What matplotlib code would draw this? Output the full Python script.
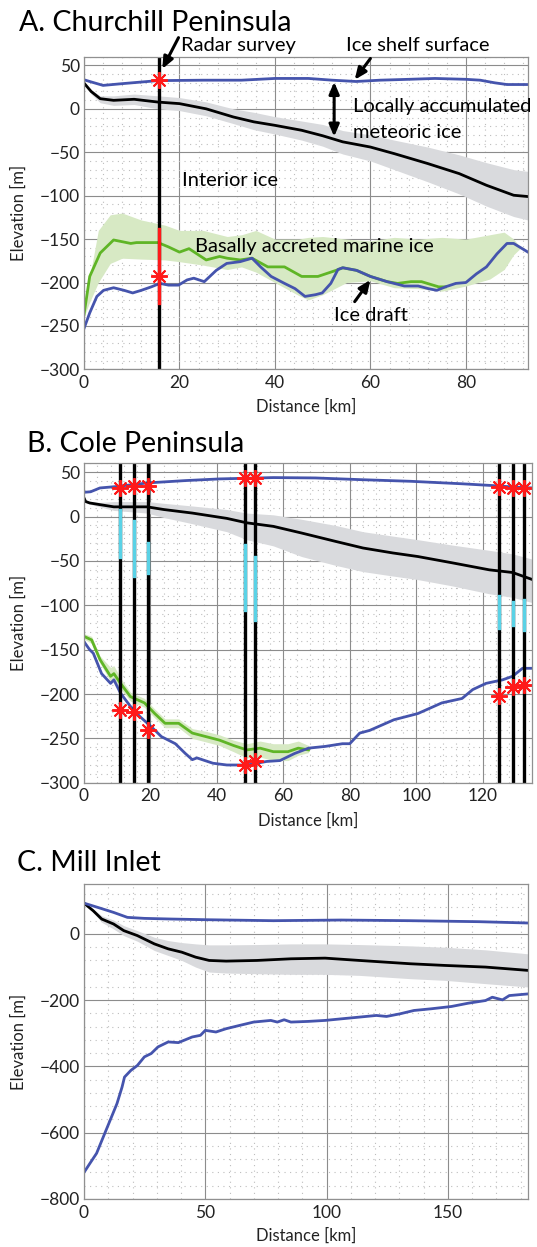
import numpy as np
import matplotlib
matplotlib.use('Agg')
import matplotlib.pyplot as plt
from matplotlib.ticker import MultipleLocator

plt.rcParams['font.family'] = ['Lato', 'DejaVu Sans']

# ---------------- A. Churchill Peninsula ----------------
a_surf_x = [0, 1.5, 4, 8, 15.5, 25, 33, 40, 47, 52, 57, 62, 68, 73.5, 80, 83, 86, 88.6, 93]
a_surf_y = [33.5, 31, 27, 29, 32.5, 33, 33, 35, 35, 33, 31.5, 33, 34, 35, 34, 33, 30, 28, 28]

a_met_x = [0, 1.5, 3.4, 6.2, 10.5, 15.5, 20, 25.6, 31.3, 35.6, 40, 45.6, 50, 54.2, 60, 65, 72, 78.6, 84.3, 90, 93]
a_met_y = [29.7, 20, 11.7, 9.8, 11, 7.8, 6, 0, -9.4, -15, -19, -24.7, -31, -38, -44, -51.6, -63, -74.6, -88, -99.5, -101]
a_met_hi = [30, 22, 15, 15, 17, 15, 13, 8, 0, -4, -9, -14, -18, -25, -30, -36, -44, -53, -62, -70, -72]
a_met_lo = [29, 17, 7, 4, 5, 0, -2, -8, -17, -24, -29, -36, -43, -52, -60, -70, -84, -98, -112, -124, -128]

a_draft_x = [0, 1.2, 2.7, 4.1, 6.2, 8.4, 10.2, 12, 14.1, 15.9, 17.7, 19.8, 21.6, 23, 25.2, 27.7, 29.9,
             32.7, 35.2, 37, 39.2, 42, 44.2, 46.3, 48.5, 49.9, 51.7, 53.2, 54.2, 57.1, 60, 63.5, 67.1,
             70, 72.1, 73.9, 75.7, 77.9, 80, 82.2, 84.3, 86.5, 88.6, 90, 93]
a_draft_y = [-253, -235, -216, -209, -206, -209, -212, -209, -205, -201, -203, -203, -197, -195, -199,
             -186, -178, -176, -172, -182, -193, -201, -207, -216, -214, -212, -201, -185, -183, -186,
             -193, -199, -204, -204, -207, -209, -205, -201, -200, -190, -182, -167, -155, -155, -165]

a_mar_x = [0, 1.2, 3.4, 6.2, 9.8, 11, 15.5, 17.7, 20, 22, 25.6, 28.4, 30, 32.7, 35.2, 38.5, 42, 45.6,
           49, 52.8, 54.2, 57.1, 60, 63.5, 65.7, 68.5, 70.7, 74.3, 75.7]
a_mar_y = [-237, -193, -166, -151, -155, -154, -154, -159, -165, -161, -174, -170, -172, -174, -172,
           -182, -182, -193, -193, -186, -183, -186, -193, -199, -201, -199, -199, -205, -205]

a_band_x = [0, 1, 3, 5.5, 8, 12, 17, 20, 25, 30, 33, 36, 40, 45, 47, 50, 55, 60, 65, 70, 75, 80, 85, 88, 90, 91.5]
a_band_hi = [-237, -200, -140, -122, -120, -128, -134, -140, -140, -147, -145, -140, -150, -150, -148,
             -147, -150, -152, -148, -150, -148, -150, -145, -142, -150, -160]
a_band_lo = [-240, -225, -200, -178, -172, -173, -174, -176, -180, -185, -182, -188, -200, -215, -220,
             -214, -200, -198, -206, -207, -210, -204, -196, -185, -168, -160]

a_radar_x = 15.8
a_radar_seg = [-138, -224]
a_stars_y = [32.7, -193]

# ---------------- B. Cole Peninsula ----------------
b_surf_x = [0, 2, 4.8, 10, 19.2, 30.5, 40.8, 57, 69.6, 83, 98.4, 113.8, 123, 131, 135]
b_surf_y = [27.4, 28, 32.3, 34, 38, 40.6, 42.5, 44, 43.6, 41.7, 39.8, 37, 35, 33, 32.3]

b_met_x = [0, 0.5, 1.7, 4.8, 9, 19, 24, 32.6, 43, 49, 57, 65.5, 75.8, 84, 93, 100.5, 110.7, 122, 129, 132, 135]
b_met_y = [21, 17, 15.4, 13.5, 11, 11, 8, 4, -2, -7, -11, -18.5, -28, -35.4, -41, -45, -52, -60, -63, -67, -71]
b_met_hi = [21, 18, 17, 16, 17, 17, 15, 12, 8, 4, 2, -3, -10, -17, -22, -26, -32, -38, -42, -45, -48]
b_met_lo = [21, 16, 14, 11, 7, 4, -1, -8, -17, -26, -33, -45, -55, -62, -67, -71, -78, -87, -91, -94, -97]

b_draft_x = [0, 1.7, 2.8, 5.3, 8, 9, 11, 14, 17, 20.3, 23.3, 27.5, 30.5, 32.6, 34, 38.8, 43, 49, 55,
             59, 63.4, 67.6, 72.7, 77.8, 80, 83, 86, 93.3, 100.5, 107.7, 113.8, 117, 121, 126, 129, 132, 135]
b_draft_y = [-141, -150, -154, -177, -188, -184, -199, -214, -226, -237, -248, -256, -267, -274, -272,
             -278, -280, -280, -276, -275, -267, -261, -259, -256, -256, -244, -241, -229, -222, -210,
             -205, -195, -188, -184, -180, -171, -171]

b_mar_x = [0, 2.3, 4.8, 8, 9, 11, 14, 18.2, 21.3, 24.4, 28.5, 32.6, 36.7, 40.8, 45, 49, 53, 57, 61.4, 64.5, 67.6]
b_mar_y = [-135, -139, -161, -180, -177, -188, -203, -210, -222, -233, -233, -244, -248, -252, -258,
           -263, -261, -265, -265, -261, -263]
b_mar_hi = [-132, -135, -157, -170, -168, -182, -198, -205, -217, -228, -228, -239, -242, -246, -252,
            -256, -253, -256, -256, -253, -258]
b_mar_lo = [-138, -143, -165, -186, -183, -194, -208, -215, -227, -238, -238, -250, -254, -258, -265,
            -272, -271, -275, -275, -269, -266]

b_radar_x = [10.8, 15, 19.3, 48.6, 51.6, 124.8, 129, 132.4]
b_seg_top = [8, -5, -30, -32, -45, -90, -96, -94]
b_seg_bot = [-45, -67, -64, -105, -116, -126, -122, -128]
b_star_top = [32.3, 35, 35, 43.6, 43.6, 33, 32.3, 32.3]
b_star_bot = [-218, -220, -240, -280, -276, -202, -192, -190]

# ---------------- C. Mill Inlet ----------------
c_surf_x = [0, 6.6, 12.2, 17.9, 24.9, 36, 50, 78, 106, 134.5, 162.7, 183]
c_surf_y = [93, 78, 65, 50, 47, 45, 43, 40, 42, 40, 37, 33]

c_met_x = [0, 3.8, 7.3, 12.2, 16.4, 22, 29, 34.7, 40.3, 46, 51.6, 58.6, 71.3, 85.3, 99.4, 113.5, 134.5, 148.6, 165.5, 183]
c_met_y = [93, 70, 45, 30, 10, -5, -30, -45, -55, -70, -80, -82, -80, -75, -73, -80, -90, -95, -100, -110]
c_met_hi = [93, 75, 55, 42, 25, 10, -10, -20, -26, -30, -33, -33, -32, -30, -30, -32, -36, -40, -48, -60]
c_met_lo = [92, 65, 35, 15, -5, -22, -50, -65, -80, -100, -115, -118, -120, -122, -122, -125, -135, -140, -150, -160]

c_draft_x = [0, 2.4, 5.2, 8, 10.8, 13.6, 15.7, 16.7, 19.3, 22, 24.9, 27.7, 30.5, 34.7, 38.9, 44.6, 48,
             50, 54.4, 58.6, 64.2, 69.9, 77, 79.7, 82.5, 85.3, 92.4, 99.4, 106.4, 113.5, 120.5, 124.7,
             130.3, 136, 143, 151.4, 158.4, 165.5, 168.3, 172.5, 175.3, 183]
c_draft_y = [-720, -693, -662, -612, -562, -512, -462, -432, -412, -397, -371, -361, -341, -326, -328,
             -311, -306, -291, -296, -286, -276, -266, -261, -266, -259, -266, -264, -261, -256, -251,
             -246, -249, -241, -231, -226, -219, -209, -201, -191, -199, -186, -181]

BLUE = '#4554ad'
GREEN = '#5fb526'
GREY_BAND = '#d9dadd'
GREEN_BAND = '#d7e9c4'
RED = '#ff1a1a'
CYAN = '#5ad2e6'
STAR = (8, 2, 0)
LW = 2.0


def style_axes(ax, xlim, ylim, xmaj, xmin, ymaj, ymin):
    ax.set_xlim(xlim)
    ax.set_ylim(ylim)
    ax.xaxis.set_major_locator(MultipleLocator(xmaj))
    ax.xaxis.set_minor_locator(MultipleLocator(xmin))
    ax.yaxis.set_major_locator(MultipleLocator(ymaj))
    ax.yaxis.set_minor_locator(MultipleLocator(ymin))
    ax.grid(which='major', color='#8c8c8c', lw=0.8, ls='-')
    ax.grid(which='minor', color='#bdbdbd', lw=0.8, ls=(0, (1, 4)))
    ax.set_axisbelow(True)
    for s in ax.spines.values():
        s.set_color('#909090')
        s.set_linewidth(0.9)
    ax.tick_params(which='both', direction='in', length=0, labelsize=12.5, colors='#222222', pad=4)
    ax.tick_params(axis='y', pad=3)
    ax.set_xlabel('Distance [km]', fontsize=12, color='#222222')
    ax.set_ylabel('Elevation [m]', fontsize=12, color='#222222')
    ax.yaxis.set_label_coords(-0.128, 0.5)
    ax.xaxis.set_label_coords(0.5, -0.092)


fig = plt.figure(figsize=(5.37, 12.47), dpi=100)

# ---------- panel A ----------
ax = fig.add_axes([0.1564, 0.7038, 0.8268, 0.2507])
style_axes(ax, (0, 93), (-300, 60), 20, 4, 50, 10)
ax.fill_between(a_met_x, a_met_lo, a_met_hi, color=GREY_BAND, lw=0)
ax.fill_between(a_band_x, a_band_lo, a_band_hi, color=GREEN_BAND, lw=0)
ax.plot(a_met_x, a_met_y, color='black', lw=LW)
ax.plot(a_mar_x, a_mar_y, color=GREEN, lw=LW)
ax.plot(a_draft_x, a_draft_y, color=BLUE, lw=LW)
ax.plot(a_surf_x, a_surf_y, color=BLUE, lw=LW)
ax.plot([a_radar_x, a_radar_x], [-300, 60], color='black', lw=2.4)
ax.plot([a_radar_x, a_radar_x], a_radar_seg, color=RED, lw=2.4)
ax.plot([a_radar_x] * 2, a_stars_y, ls='none', marker=STAR, ms=12, mew=1.4, color=RED)

arrow = dict(arrowstyle='-|>,head_width=0.3,head_length=0.7', color='black', lw=2.2,
             shrinkA=0, shrinkB=0)
dbl = dict(arrow, arrowstyle='<|-|>,head_width=0.3,head_length=0.7')
ax.annotate('', xy=(16.4, 46), xytext=(19.8, 82), annotation_clip=False, arrowprops=arrow)
ax.annotate('', xy=(56.7, 33.5), xytext=(60, 58), annotation_clip=False, arrowprops=arrow)
ax.annotate('', xy=(52.4, 31), xytext=(52.4, -32), arrowprops=dbl)
ax.annotate('', xy=(60, -197), xytext=(56.7, -222), arrowprops=arrow)
ax.text(20.4, 73, 'Radar survey', fontsize=14.5, va='center', clip_on=False)
ax.text(54.9, 73, 'Ice shelf surface', fontsize=14.5, va='center', clip_on=False)
ax.text(56.4, 2.9, 'Locally accumulated', fontsize=14.5, va='center', clip_on=False)
ax.text(56.4, -26.7, 'meteoric ice', fontsize=14.5, va='center')
ax.text(20.6, -82, 'Interior ice', fontsize=14.5, va='center')
ax.text(23.2, -159, 'Basally accreted marine ice', fontsize=14.5, va='center')
ax.text(52.4, -237.5, 'Ice draft', fontsize=14.5, va='center')
fig.text(0.035, 0.9818, 'A. Churchill Peninsula', fontsize=20.5, va='center')

# ---------- panel B ----------
ax = fig.add_axes([0.1564, 0.3723, 0.8352, 0.2561])
style_axes(ax, (0, 135), (-300, 60), 20, 4, 50, 10)
ax.fill_between(b_met_x, b_met_lo, b_met_hi, color=GREY_BAND, lw=0)
ax.fill_between(b_mar_x, b_mar_lo, b_mar_hi, color=GREEN_BAND, lw=0)
ax.plot(b_met_x, b_met_y, color='black', lw=LW)
ax.plot(b_mar_x, b_mar_y, color=GREEN, lw=LW)
ax.plot(b_draft_x, b_draft_y, color=BLUE, lw=LW)
ax.plot(b_surf_x, b_surf_y, color=BLUE, lw=LW)
for xr, t, b in zip(b_radar_x, b_seg_top, b_seg_bot):
    ax.plot([xr, xr], [-300, 60], color='black', lw=2.4)
    ax.plot([xr, xr], [t, b], color=CYAN, lw=2.4)
ax.plot(b_radar_x, b_star_top, ls='none', marker=STAR, ms=12, mew=1.4, color=RED)
ax.plot(b_radar_x, b_star_bot, ls='none', marker=STAR, ms=12, mew=1.4, color=RED)
fig.text(0.05, 0.6442, 'B. Cole Peninsula', fontsize=20.5, va='center')

# ---------- panel C ----------
ax = fig.add_axes([0.1564, 0.0385, 0.8268, 0.2524])
style_axes(ax, (0, 183), (-800, 150), 50, 10, 200, 40)
ax.fill_between(c_met_x, c_met_lo, c_met_hi, color=GREY_BAND, lw=0)
ax.plot(c_met_x, c_met_y, color='black', lw=LW)
ax.plot(c_draft_x, c_draft_y, color=BLUE, lw=LW)
ax.plot(c_surf_x, c_surf_y, color=BLUE, lw=LW)
fig.text(0.032, 0.3083, 'C. Mill Inlet', fontsize=20.5, va='center')

fig.savefig('out.png', dpi=100)
